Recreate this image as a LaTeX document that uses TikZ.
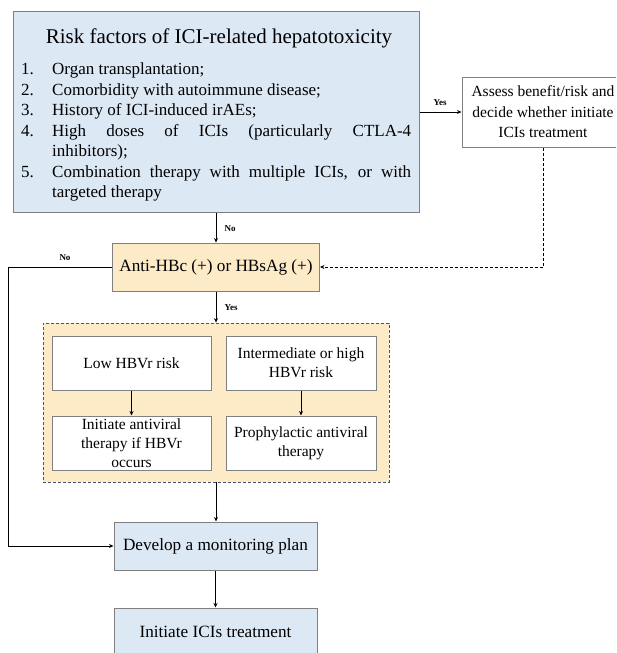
\documentclass[tikz,border=0pt]{standalone}
\usepackage{fontspec}
\setmainfont{Liberation Serif}
\usetikzlibrary{arrows.meta}
\definecolor{bluefill}{HTML}{DDE8F5}
\definecolor{yellowfill}{HTML}{FCEBC6}
\definecolor{boxline}{HTML}{808080}
\definecolor{dashline}{HTML}{44546A}
\newcommand{\riskitem}[2]{\noindent\hangindent=31pt\hangafter=1\makebox[31pt][l]{#1}#2\par}
\tikzset{
  box/.style={draw=boxline, line width=1pt, inner sep=0pt, align=center},
  conn/.style={draw=black, line width=0.8pt, -{Stealth[length=4.5pt,width=4pt]}},
  lbl/.style={font=\fontsize{9}{10}\selectfont\bfseries, inner sep=0pt},
  bigtext/.style={font=\fontsize{17.2}{20.5}\selectfont},
  smalltext/.style={font=\fontsize{15.5}{19}\selectfont},
}
\begin{document}
\begin{tikzpicture}[x=1pt,y=-1pt]
\useasboundingbox (0,0) rectangle (616,653);
\clip (0,0) rectangle (616,653);
% top box
\node[box, fill=bluefill, minimum width=406pt, minimum height=201pt] (risk) at (216,111.5) {};
\node[anchor=base, inner sep=0pt, font=\fontsize{21}{25}\selectfont] (title) at (219,43) {Risk factors of ICI-related hepatotoxicity};
\node[anchor=base west, inner sep=0pt, text width=390pt, align=justify, font=\fontsize{17}{20.5}\selectfont] (list) at (21,74.5)
{\hyphenpenalty=10000\exhyphenpenalty=10000\tolerance=9999%
\riskitem{1.}{Organ transplantation;}%
\riskitem{2.}{Comorbidity with autoimmune disease;}%
\riskitem{3.}{History of ICI-induced irAEs;}%
\riskitem{4.}{High doses of ICIs (particularly CTLA-4\linebreak inhibitors);}%
\riskitem{5.}{Combination therapy with multiple ICIs, or with\linebreak targeted therapy}};
% assess box
\node[box, fill=white, minimum width=162pt, minimum height=70pt, font=\fontsize{15.5}{20.5}\selectfont] (assess) at (543,112)
{Assess benefit/risk and\\decide whether initiate\\ICIs treatment};
% anti box
\node[box, fill=yellowfill, minimum width=207pt, minimum height=48pt, bigtext] (anti) at (216,267) {Anti-HBc (+) or HBsAg (+)};
% container
\node[draw=dashline, dash pattern=on 3pt off 2pt, fill=yellowfill, line width=0.8pt, minimum width=346pt, minimum height=159pt, inner sep=0pt] (hbv) at (216,402.5) {};
\node[box, fill=white, minimum width=159pt, minimum height=54pt, smalltext] (low) at (131.5,363) {Low HBVr risk};
\node[box, fill=white, minimum width=150pt, minimum height=54pt, smalltext] (high) at (301,363) {Intermediate or high\\HBVr risk};
\node[box, fill=white, minimum width=159pt, minimum height=54pt, smalltext] (lowact) at (131.5,443) {Initiate antiviral\\therapy if HBVr\\occurs};
\node[box, fill=white, minimum width=150pt, minimum height=54pt, smalltext] (highact) at (301,443) {Prophylactic antiviral\\therapy};
% bottom boxes
\node[box, fill=bluefill, minimum width=203pt, minimum height=48pt, bigtext] (monitor) at (215.5,546) {Develop a monitoring plan};
\node[box, fill=bluefill, minimum width=203pt, minimum height=48pt, bigtext] (start) at (215.5,632) {Initiate ICIs treatment};
% connectors
\coordinate (lft) at (8,300);
\draw[conn] (risk.south) -- (risk.south |- anti.north);
\node[lbl] (no1) at (230,229) {No};
\draw[conn] (assess.west -| risk.east) -- (assess.west);
\node[lbl] (yes1) at (440,103) {Yes};
\draw[conn, dash pattern=on 3pt off 2pt] (assess.south) |- (anti.east);
\draw[conn] (anti.west) -- (anti.west -| lft) |- (monitor.west);
\node[lbl] (no2) at (65,258) {No};
\draw[conn] (anti.south) -- (anti.south |- hbv.north);
\node[lbl] (yes2) at (231,308) {Yes};
\draw[conn] (low.south) -- (lowact.north);
\draw[conn] (high.south) -- (highact.north);
\draw[conn] (hbv.south) -- (hbv.south |- monitor.north);
\draw[conn] (monitor.south) -- (start.north);
\end{tikzpicture}
\end{document}
